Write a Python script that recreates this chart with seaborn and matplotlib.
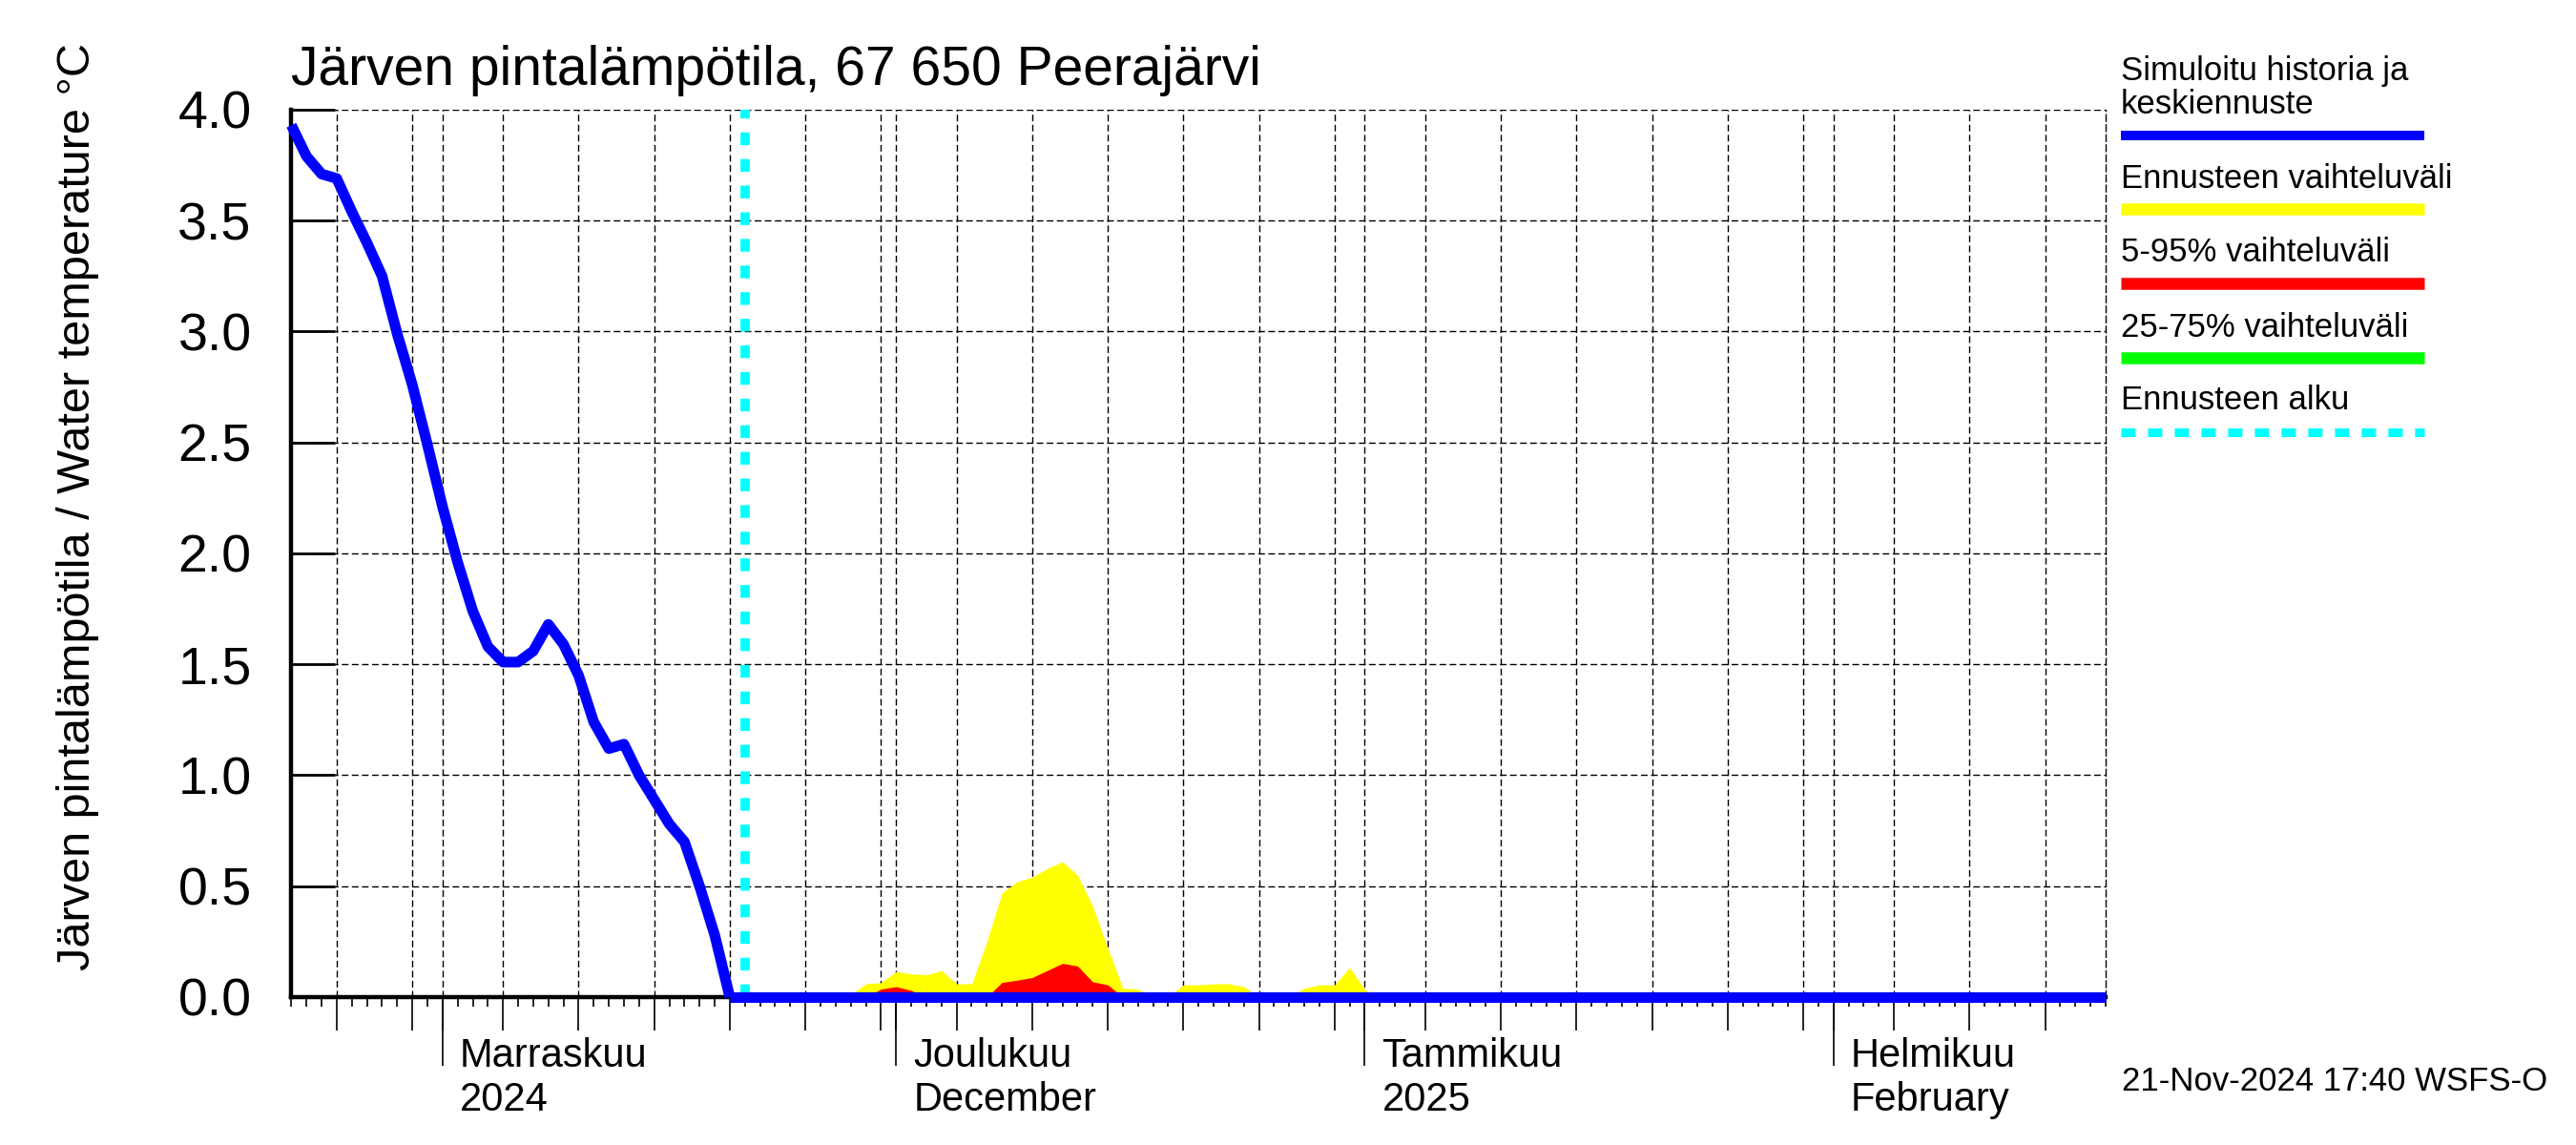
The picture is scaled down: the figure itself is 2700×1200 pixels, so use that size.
import pandas as pd
import seaborn as sns
import matplotlib.pyplot as plt
import matplotlib.dates as mdates
from matplotlib.lines import Line2D

sns.set_style("ticks")
plt.rcParams['font.family'] = ['Liberation Sans', 'DejaVu Sans']
plt.rcParams['text.color'] = 'black'
plt.rcParams['axes.labelcolor'] = 'black'
plt.rcParams['xtick.color'] = 'black'
plt.rcParams['ytick.color'] = 'black'

# simulated history, daily from 22 Oct 2024
history_start = "2024-10-22"
history_values = [3.93, 3.79, 3.71, 3.69, 3.54, 3.40, 3.25, 2.99, 2.76, 2.49,
                  2.21, 1.96, 1.74, 1.58, 1.51, 1.51, 1.56, 1.68, 1.59, 1.45,
                  1.24, 1.12, 1.14, 1.00, 0.89, 0.78, 0.70, 0.50, 0.28, 0.0]

# forecast median (flat at zero), given at its end points
median_dates = ["2024-11-20", "2025-02-19"]
median_values = [0.0, 0.0]

# forecast bands, daily from 27 Nov 2024 (lower edge is zero)
band_start = "2024-11-27"
band_max = [0.0, 0.01, 0.06, 0.065, 0.115, 0.105, 0.10, 0.12, 0.06, 0.06,
            0.25, 0.47, 0.52, 0.54, 0.58, 0.61, 0.55, 0.41, 0.22, 0.04,
            0.036, 0.0, 0.0, 0.055, 0.055, 0.06, 0.06, 0.047, 0.0, 0.0,
            0.0, 0.04, 0.055, 0.055, 0.134, 0.033, 0.0]
band_95 = [0.0, 0.0, 0.0, 0.036, 0.047, 0.03, 0.0, 0.0, 0.0, 0.0,
           0.0, 0.066, 0.076, 0.088, 0.12, 0.152, 0.14, 0.069, 0.055, 0.0,
           0.0, 0.0, 0.0, 0.0, 0.0, 0.0, 0.0, 0.0, 0.0, 0.0,
           0.0, 0.0, 0.0, 0.0, 0.0, 0.0, 0.0]

forecast_start = "2024-11-21"
x_range = ["2024-10-22", "2025-02-19"]
y_ticks = [0.0, 0.5, 1.0, 1.5, 2.0, 2.5, 3.0, 3.5, 4.0]

month_dates = ["2024-11-01", "2024-12-01", "2025-01-01", "2025-02-01"]
month_labels = ["Marraskuu\n2024", "Joulukuu\nDecember",
                "Tammikuu\n2025", "Helmikuu\nFebruary"]

legend_labels = ["Simuloitu historia ja\nkeskiennuste",
                 "Ennusteen vaihteluväli", "5-95% vaihteluväli",
                 "25-75% vaihteluväli", "Ennusteen alku"]
legend_colors = ["#0000ff", "#ffff00", "#ff0000", "#00ff00", "#00ffff"]

title = "Järven pintalämpötila, 67 650 Peerajärvi"
ylabel = "Järven pintalämpötila / Water temperature °C"
stamp = "21-Nov-2024 17:40 WSFS-O"


def main():
    hist = pd.DataFrame({
        "date": pd.date_range(history_start, periods=len(history_values)),
        "value": history_values})
    med = pd.DataFrame({"date": pd.to_datetime(median_dates),
                        "value": median_values})
    bands = pd.DataFrame({
        "date": pd.date_range(band_start, periods=len(band_max)),
        "max": band_max, "p95": band_95})

    fig = plt.figure(figsize=(27, 12), dpi=100)
    ax = fig.add_axes([0.1131, 0.1292, 0.8174 - 0.1131, 0.9042 - 0.1292])

    dash = (0, (5, 2.6))
    grid_style = dict(color="black", linewidth=1.0, linestyle=dash)
    ax.fill_between(bands["date"], 0, bands["max"], color="#ffff00",
                    linewidth=0, zorder=2)
    ax.fill_between(bands["date"], 0, bands["p95"], color="#ff0000",
                    linewidth=0, zorder=2.1)
    ax.axvline(pd.Timestamp(forecast_start), color="#00ffff", linewidth=7,
               linestyle=(0, (1.37, 1.5)), zorder=3)
    sns.lineplot(data=hist, x="date", y="value", ax=ax, color="#0000ff",
                 linewidth=8, zorder=4, clip_on=False,
                 solid_capstyle="butt")
    sns.lineplot(data=med, x="date", y="value", ax=ax, color="#0000ff",
                 linewidth=8, zorder=4, clip_on=False,
                 solid_capstyle="butt")

    ax.set_xlim(pd.to_datetime(x_range))
    ax.set_ylim(0, 4)
    ax.set_yticks(y_ticks)
    ax.set_yticklabels([f"{v:.1f}" for v in y_ticks])

    ax.xaxis.set_major_locator(
        mdates.DayLocator(bymonthday=[1, 5, 10, 15, 20, 25, 30]))
    ax.xaxis.set_minor_locator(mdates.DayLocator())
    ax.xaxis.set_major_formatter(plt.NullFormatter())
    ax.tick_params(axis="x", which="major", direction="out", length=25,
                   width=1.2, bottom=True)
    ax.tick_params(axis="x", which="minor", direction="out", length=7,
                   width=1.2, bottom=True)
    ax.tick_params(axis="y", direction="in", length=33, width=2,
                   pad=30, labelsize=40, left=True)

    sec = ax.secondary_xaxis("bottom")
    sec.set_xticks(pd.to_datetime(month_dates))
    sec.set_xticklabels([])
    sec.tick_params(direction="out", length=52, width=1.2)
    sec.spines["bottom"].set_visible(False)

    for d, lab in zip(month_dates, month_labels):
        ax.annotate(lab, xy=(pd.Timestamp(d), 0),
                    xycoords=("data", "axes fraction"),
                    xytext=(13, -30), textcoords="offset points",
                    ha="left", va="top", fontsize=30)

    ax.grid(True, which="major", axis="both", **grid_style)
    ax.set_axisbelow(True)
    for side in ["left", "bottom"]:
        ax.spines[side].set_linewidth(3.2)
        ax.spines[side].set_color("black")
    ax.spines["top"].set_visible(False)
    ax.spines["right"].set_linewidth(1.0)
    ax.spines["right"].set_linestyle(dash)
    ax.spines["right"].set_color("black")

    ax.set_xlabel("")
    ax.set_ylabel(ylabel, fontsize=35)
    ax.yaxis.set_label_coords(-0.106, 0.553)
    ax.set_title(title, loc="left", fontsize=41, pad=19)

    # legend drawn at the right side of the figure
    text_y = [84, 197, 274, 353, 429]
    line_y = [142, 219, 297, 375, 453]
    widths = [7.2, 9, 9, 9, 6.5]
    for i, lab in enumerate(legend_labels):
        if "\n" in lab:
            first, second = lab.split("\n")
            fig.text(0.8233, 1 - text_y[i] / 1200, first, fontsize=25,
                     va="baseline", ha="left")
            fig.text(0.8233, 1 - 119 / 1200, second, fontsize=25,
                     va="baseline", ha="left")
        else:
            fig.text(0.8233, 1 - text_y[i] / 1200, lab, fontsize=25,
                     va="baseline", ha="left")
        ls = (0, (1.66, 1.44)) if i == 4 else "-"
        fig.add_artist(Line2D([0.8233, 0.9411],
                              [1 - line_y[i] / 1200] * 2,
                              transform=fig.transFigure,
                              color=legend_colors[i], linewidth=widths[i],
                              linestyle=ls, solid_capstyle="butt",
                              dash_capstyle="butt"))

    fig.text(0.8236, 1 - 1143 / 1200, stamp, fontsize=25, va="baseline",
             ha="left")

    fig.savefig("out.png", dpi=100)


if __name__ == "__main__":
    main()
